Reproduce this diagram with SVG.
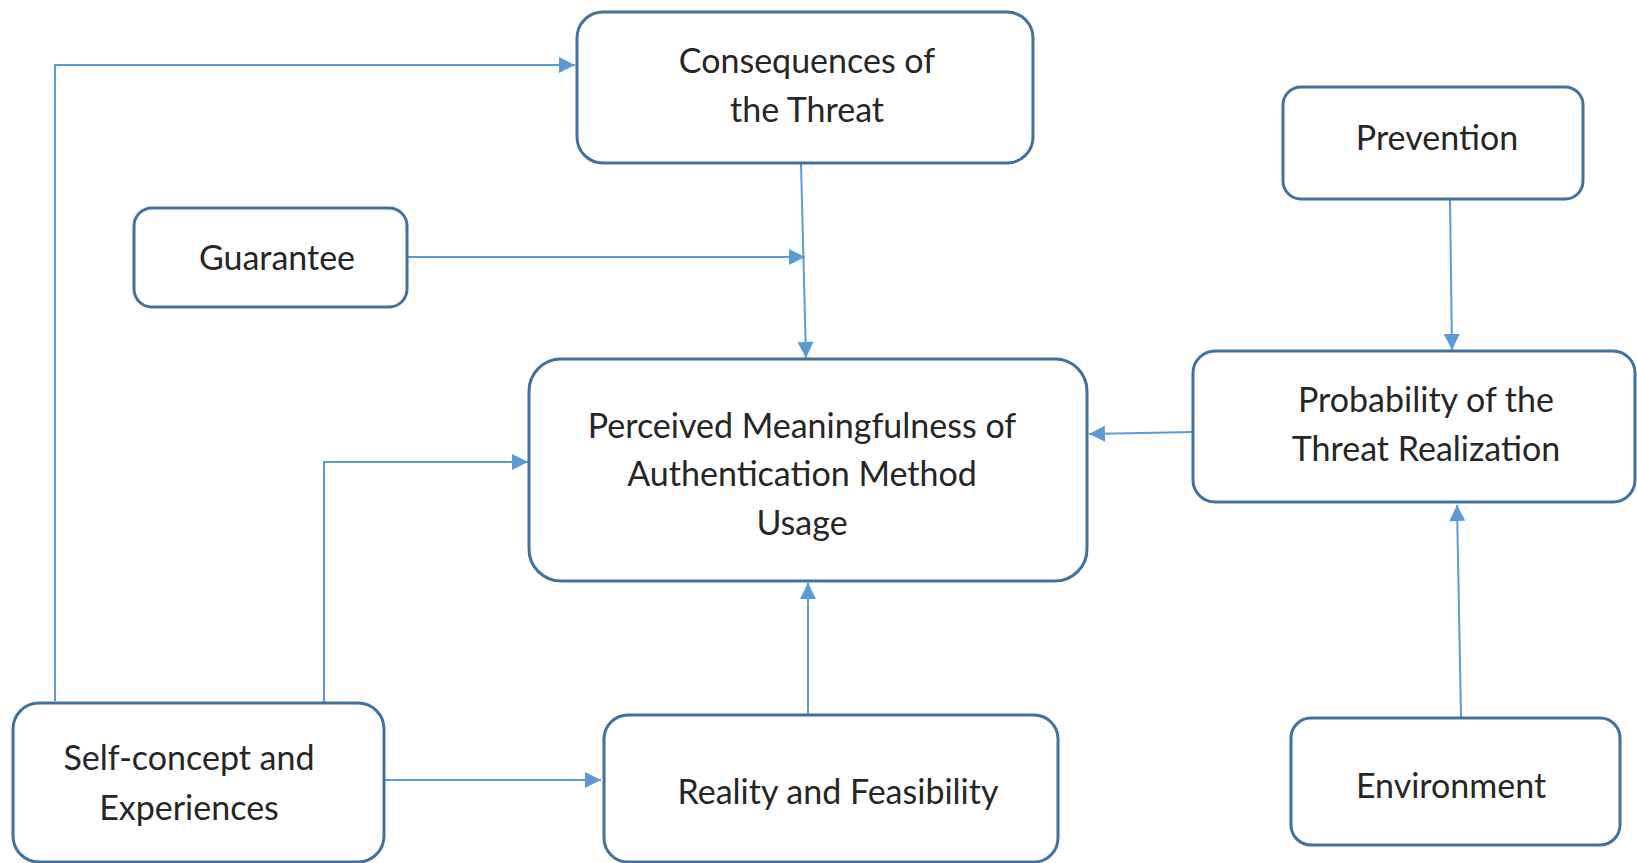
<svg xmlns="http://www.w3.org/2000/svg" width="1637" height="863" viewBox="0 0 1637 863">
<defs>
<style>
.box{fill:#fff;stroke:#41719c;stroke-width:3}
.t{font-family:Lato,"Open Sans",sans-serif;font-size:34px;fill:#262626;text-anchor:middle}
.c{fill:none;stroke:#5b9bd5;stroke-width:2}
</style>
<marker id="ahb" viewBox="0 0 10 10" refX="10" refY="5" markerWidth="18" markerHeight="16" markerUnits="userSpaceOnUse" orient="auto">
<path d="M0,0 L10,5 L0,10 z" fill="#5b9bd5"/>
</marker>
</defs>
<rect width="1637" height="863" fill="#fff"/>
<g id="connectors">
<path class="c" d="M55,701 V65 H575" marker-end="url(#ahb)"/>
<path class="c" d="M407,257 H805" marker-end="url(#ahb)"/>
<path class="c" d="M801,163 L806,358" marker-end="url(#ahb)"/>
<path class="c" d="M1450,199 L1452,350" marker-end="url(#ahb)"/>
<path class="c" d="M1193,432 L1089,434" marker-end="url(#ahb)"/>
<path class="c" d="M1461,717 L1457,505" marker-end="url(#ahb)"/>
<path class="c" d="M324,703 V462 H528" marker-end="url(#ahb)"/>
<path class="c" d="M384,780 H601" marker-end="url(#ahb)"/>
<path class="c" d="M808,715 V583" marker-end="url(#ahb)"/>
</g>
<g id="consequences">
<rect class="box" x="577" y="12" width="456" height="151" rx="26"/>
<text class="t" x="807" y="73">Consequences of</text>
<text class="t" x="807" y="122">the Threat</text>
</g>
<g id="guarantee">
<rect class="box" x="134" y="208" width="273" height="99" rx="18"/>
<text class="t" x="277" y="270">Guarantee</text>
</g>
<g id="prevention">
<rect class="box" x="1283" y="87" width="300" height="112" rx="18"/>
<text class="t" x="1437" y="150">Prevention</text>
</g>
<g id="perceived">
<rect class="box" x="529" y="359" width="558" height="222" rx="32"/>
<text class="t" x="802" y="438">Perceived Meaningfulness of</text>
<text class="t" x="802" y="486">Authentication Method</text>
<text class="t" x="802" y="535">Usage</text>
</g>
<g id="probability">
<rect class="box" x="1193" y="351" width="442" height="151" rx="22"/>
<text class="t" x="1426" y="412">Probability of the</text>
<text class="t" x="1426" y="461">Threat Realization</text>
</g>
<g id="selfconcept">
<rect class="box" x="13" y="703" width="371" height="159" rx="26"/>
<text class="t" x="189" y="770">Self-concept and</text>
<text class="t" x="189" y="820">Experiences</text>
</g>
<g id="reality">
<rect class="box" x="604" y="715" width="454" height="147" rx="24"/>
<text class="t" x="838" y="804">Reality and Feasibility</text>
</g>
<g id="environment">
<rect class="box" x="1291" y="718" width="329" height="127" rx="20"/>
<text class="t" x="1451" y="798">Environment</text>
</g>
</svg>
